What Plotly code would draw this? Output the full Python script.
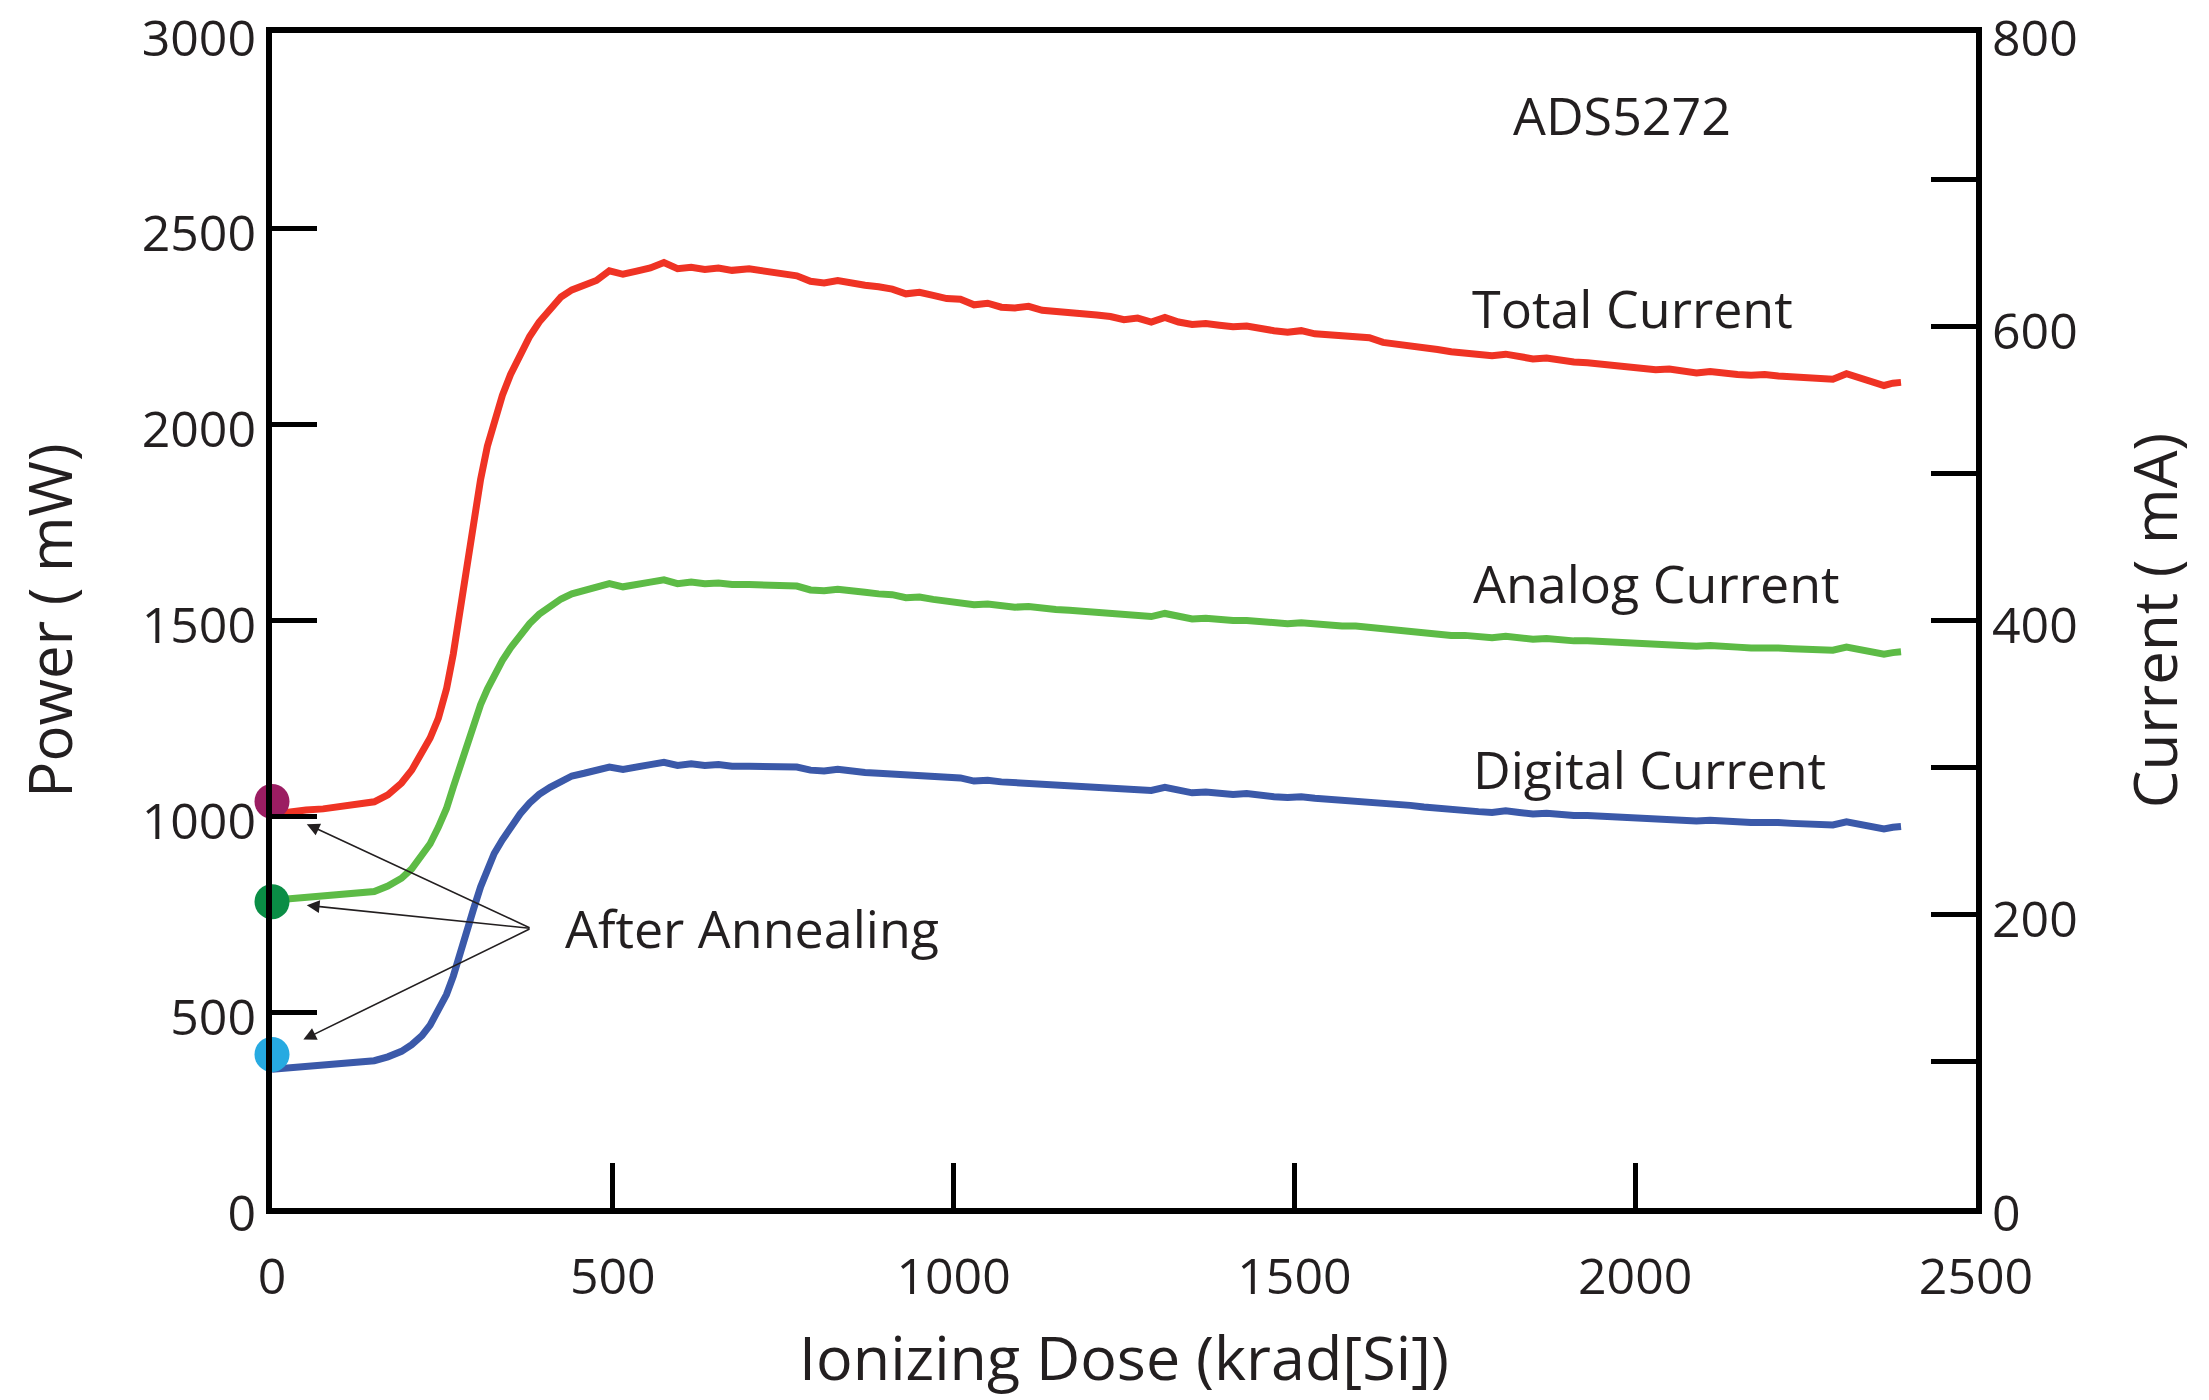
import plotly.graph_objects as go

# Ionizing dose grid (krad[Si]) shared by the three supply-current traces
dose = [0, 25, 50, 75, 100, 125, 150, 170, 190, 205, 220, 232, 244, 256, 266, 276, 286, 296, 306, 316,
        326, 338, 350, 364, 378, 392, 408, 424, 440, 458, 476, 495, 515, 535, 555, 575, 595, 615, 635, 655,
        675, 700, 725, 750, 770, 790, 810, 830, 850, 870, 890, 910, 930, 950, 970, 990, 1010, 1030, 1050,
        1070, 1090, 1110, 1130, 1150, 1170, 1190, 1210, 1230, 1250, 1270, 1290, 1310, 1330, 1350, 1370,
        1390, 1410, 1430, 1450, 1470, 1490, 1510, 1530, 1550, 1570, 1590, 1610, 1630, 1650, 1670, 1690,
        1710, 1730, 1750, 1770, 1790, 1810, 1830, 1850, 1870, 1890, 1910, 1930, 1950, 1970, 1990, 2010,
        2030, 2050, 2070, 2090, 2110, 2130, 2150, 2170, 2190, 2210, 2230, 2250, 2270, 2290, 2310, 2330,
        2350, 2365, 2378, 2390]

total_mw = [1005, 1012, 1016, 1019, 1024, 1028, 1037, 1055, 1085, 1118, 1160, 1200, 1250, 1325, 1415,
            1530, 1650, 1760, 1860, 1945, 2010, 2075, 2128, 2178, 2225, 2262, 2296, 2326, 2344, 2358,
            2368, 2393, 2384, 2392, 2400, 2414, 2398, 2402, 2396, 2400, 2394, 2398, 2392, 2384, 2380,
            2366, 2362, 2368, 2360, 2356, 2352, 2346, 2334, 2338, 2330, 2322, 2320, 2306, 2310, 2300,
            2298, 2302, 2292, 2290, 2286, 2284, 2280, 2276, 2268, 2272, 2262, 2274, 2262, 2256, 2258,
            2254, 2250, 2252, 2244, 2240, 2236, 2240, 2232, 2230, 2228, 2226, 2222, 2210, 2206, 2204,
            2198, 2192, 2186, 2184, 2178, 2176, 2180, 2172, 2168, 2170, 2164, 2160, 2158, 2154, 2150,
            2148, 2144, 2140, 2142, 2136, 2132, 2136, 2130, 2128, 2126, 2128, 2124, 2122, 2118, 2120,
            2116, 2130, 2118, 2106, 2100, 2106, 2108]

analog_mw = [786, 789, 793, 796, 799, 802, 808, 822, 842, 866, 898, 930, 972, 1020, 1075, 1130, 1185,
             1235, 1285, 1325, 1360, 1398, 1430, 1462, 1492, 1516, 1538, 1555, 1568, 1578, 1586, 1594,
             1586, 1594, 1598, 1604, 1594, 1598, 1594, 1596, 1592, 1592, 1590, 1586, 1588, 1578, 1576,
             1580, 1574, 1572, 1568, 1566, 1558, 1560, 1554, 1550, 1548, 1540, 1542, 1536, 1534, 1536,
             1530, 1528, 1526, 1524, 1522, 1520, 1514, 1516, 1510, 1518, 1510, 1504, 1506, 1502, 1500,
             1500, 1496, 1494, 1492, 1494, 1490, 1488, 1486, 1486, 1482, 1478, 1476, 1474, 1470, 1466,
             1462, 1462, 1458, 1456, 1460, 1456, 1452, 1454, 1450, 1448, 1448, 1446, 1444, 1442, 1440,
             1438, 1440, 1436, 1434, 1436, 1432, 1432, 1430, 1432, 1430, 1428, 1426, 1428, 1424, 1432,
             1426, 1418, 1414, 1418, 1420]

digital_mw = [354, 358, 361, 364, 367, 370, 376, 386, 400, 417, 440, 467, 502, 545, 592, 645, 705, 765,
              820, 868, 905, 940, 972, 1006, 1034, 1056, 1074, 1090, 1103, 1110, 1116, 1126, 1120, 1128,
              1132, 1138, 1130, 1134, 1130, 1132, 1128, 1128, 1126, 1124, 1126, 1118, 1116, 1120, 1114,
              1112, 1110, 1108, 1102, 1104, 1100, 1098, 1098, 1090, 1092, 1088, 1086, 1088, 1084, 1082,
              1080, 1080, 1078, 1076, 1070, 1072, 1066, 1074, 1066, 1060, 1062, 1058, 1056, 1058, 1052,
              1050, 1048, 1050, 1046, 1044, 1042, 1040, 1036, 1032, 1030, 1028, 1024, 1020, 1016, 1016,
              1012, 1010, 1014, 1010, 1006, 1008, 1004, 1002, 1002, 1000, 998, 996, 994, 992, 994, 990,
              988, 990, 986, 986, 984, 986, 984, 982, 980, 982, 978, 986, 980, 972, 968, 972, 974]

# Post-anneal readings at zero dose
anneal_dose = [0, 0, 0]
anneal_mw = [1038, 782, 392]
anneal_colors = ["#9B1D62", "#0A8D45", "#27AAE1"]

series_names = ["Total Current", "Analog Current", "Digital Current"]
series_colors = ["#EF3324", "#5DBB46", "#3B59A9"]

power_ticks = [0, 500, 1000, 1500, 2000, 2500, 3000]
current_ticks = [0, 100, 200, 300, 400, 500, 600, 700, 800]
current_labels = ["0", "", "200", "", "400", "", "600", "", "800"]
dose_ticks = [0, 500, 1000, 1500, 2000, 2500]

INK = "#231F20"
FONT = "Open Sans"

fig = go.Figure()

for name, vals, col in zip(series_names, [total_mw, analog_mw, digital_mw], series_colors):
    fig.add_trace(go.Scatter(x=dose, y=vals, mode="lines", name=name,
                             line=dict(color=col, width=7), showlegend=False))

fig.add_trace(go.Scatter(x=anneal_dose, y=anneal_mw, mode="markers", showlegend=False,
                         marker=dict(size=35, color=anneal_colors, line=dict(width=0)),
                         cliponaxis=False))

# carrier trace so the current axis is drawn
fig.add_trace(go.Scatter(x=[None], y=[None], yaxis="y2", showlegend=False, hoverinfo="skip"))

annotations = []
# series labels
for name, xx, yy in zip(series_names, [1757, 1759, 1759], [2299, 1596, 1123]):
    annotations.append(dict(x=xx, y=yy, xref="x", yref="y", text=name, showarrow=False,
                            xanchor="left", yanchor="middle", font=dict(family=FONT, size=52, color=INK)))
annotations.append(dict(x=1818, y=2793, xref="x", yref="y", text="ADS5272", showarrow=False,
                        xanchor="left", yanchor="middle", font=dict(family=FONT, size=52, color=INK)))
annotations.append(dict(x=427, y=717, xref="x", yref="y", text="After Annealing", showarrow=False,
                        xanchor="left", yanchor="middle", font=dict(family=FONT, size=52, color=INK)))
# arrows pointing at the annealed points
for hx, hy in [(51, 980), (51, 773), (46, 430)]:
    annotations.append(dict(x=hx, y=hy, xref="x", yref="y", ax=380, ay=714, axref="x", ayref="y",
                            text="", showarrow=True, arrowhead=2, arrowsize=1.6, arrowwidth=1.6,
                            arrowcolor=INK, standoff=0, startstandoff=0))

axis_common = dict(showgrid=False, zeroline=False, showline=True, linecolor="black", linewidth=6,
                   ticks="inside", ticklen=45, tickwidth=5, tickcolor="black",
                   ticklabeloverflow="allow", automargin=False,
                   tickfont=dict(family=FONT, size=50, color=INK))

fig.update_layout(
    width=2209, height=1400,
    margin=dict(l=272, r=233, t=33, b=192, autoexpand=False),
    paper_bgcolor="white", plot_bgcolor="white",
    annotations=annotations,
    xaxis=dict(range=[0, 2500], tickvals=dose_ticks, mirror=True, ticklabelstandoff=20,
               title=dict(text="Ionizing Dose (krad[Si])", font=dict(family=FONT, size=61, color=INK),
                          standoff=31),
               **axis_common),
    yaxis=dict(range=[0, 3000], tickvals=power_ticks, ticklabelshift=5,
               title=dict(text="Power ( mW)", font=dict(family=FONT, size=60, color=INK), standoff=52),
               **axis_common),
    yaxis2=dict(range=[0, 800], overlaying="y", side="right", tickvals=current_ticks,
                ticktext=current_labels, ticklabelshift=5,
                title=dict(text="Current ( mA)", font=dict(family=FONT, size=60, color=INK), standoff=60),
                **axis_common),
)

fig.write_html("out.html")
